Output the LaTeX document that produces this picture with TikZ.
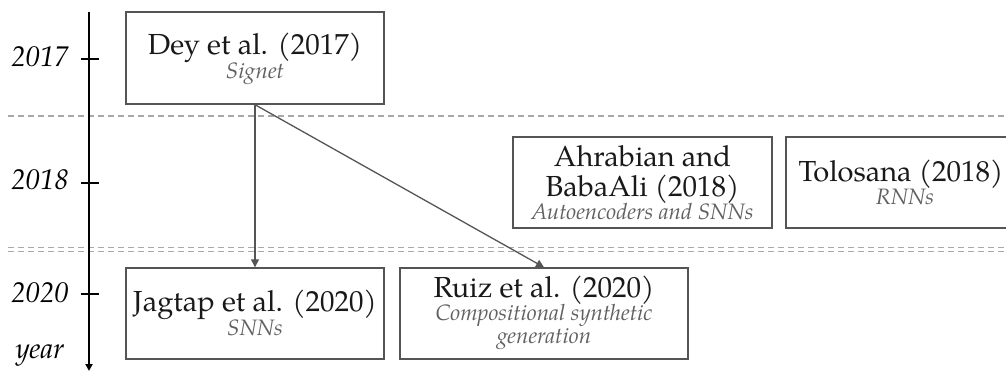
\documentclass[tikz,border=0pt]{standalone}
\usepackage{fontspec}
\setmainfont{TeX Gyre Pagella}
\usetikzlibrary{arrows.meta}
\definecolor{boxline}{HTML}{555555}
\definecolor{subtext}{HTML}{616161}
\definecolor{sepline}{HTML}{A8A8A8}
\definecolor{linkline}{HTML}{555555}
\tikzset{
  paper/.style={draw=boxline, line width=1.4pt, fill=white, inner sep=0pt},
  title/.style={anchor=base, inner sep=0pt, text=black!90, font=\fontsize{29}{30}\selectfont},
  subtitle/.style={anchor=base, inner sep=0pt, text=subtext, font=\fontsize{22.3}{23}\selectfont\itshape},
  yearlabel/.style={anchor=base, inner sep=0pt, font=\fontsize{28.5}{30}\selectfont\itshape},
  sepline/.style={draw=sepline, line width=1.2pt, dash pattern=on 6pt off 4pt},
  linkarrow/.style={draw=linkline, line width=1.3pt, -{Triangle[length=8pt,width=8pt]}},
  tick/.style={line width=2.4pt},
}
\begin{document}
\begin{tikzpicture}[x=1pt,y=-1pt]
\useasboundingbox (0,0) rectangle (1006,371);
\clip (0,0) rectangle (1006,371);

% year separators
\coordinate (s1l) at (8,116);   \coordinate (s1r) at (1006,116);
\coordinate (s2l) at (8,247.5); \coordinate (s2r) at (1006,247.5);
\coordinate (s3l) at (8,251.7); \coordinate (s3r) at (1006,251.7);
\draw[sepline] (s1l) -- (s1r);
\draw[sepline] (s2l) -- (s2r);
\draw[sepline] (s3l) -- (s3r);

% time axis
\coordinate (axtop) at (89,12);
\coordinate (axbot) at (89,371);
\draw[line width=2.4pt, -{Triangle[length=7pt,width=7pt]}] (axtop) -- (axbot);
\coordinate (t17l) at (81,59);  \coordinate (t17r) at (99,59);
\coordinate (t18l) at (81,183); \coordinate (t18r) at (99,183);
\coordinate (t20l) at (81,294); \coordinate (t20r) at (99,294);
\draw[tick] (t17l) -- (t17r);
\draw[tick] (t18l) -- (t18r);
\draw[tick] (t20l) -- (t20r);
\node[yearlabel] (y17) at (40,67) {2017};
\node[yearlabel] (y18) at (40,190) {2018};
\node[yearlabel] (y20) at (40,302) {2020};
\node[yearlabel] (yr) at (40,358) {year};

% paper boxes
\node[paper, minimum width=258pt, minimum height=92pt] (dey) at (255,58) {};
\node[paper, minimum width=259pt, minimum height=91pt] (ahr) at (642.5,182.5) {};
\node[paper, minimum width=230pt, minimum height=91pt] (tol) at (901,182.5) {};
\node[paper, minimum width=258pt, minimum height=91pt] (jag) at (255,313.5) {};
\node[paper, minimum width=288pt, minimum height=91pt] (ruiz) at (544,313.5) {};

% box texts
\node[title] (deyt) at (255,55) {Dey et al. (2017)};
\node[subtitle] (deys) at (255,79) {Signet};
\node[title] (ahrt1) at (642.5,167) {Ahrabian and};
\node[title] (ahrt2) at (642.5,197) {BabaAli (2018)};
\node[subtitle] (ahrs) at (642.5,220) {Autoencoders and SNNs};
\node[title] (tolt) at (901,182) {Tolosana (2018)};
\node[subtitle] (tols) at (905,205) {RNNs};
\node[title] (jagt) at (255,311.5) {Jagtap et al. (2020)};
\node[subtitle] (jags) at (255,335) {SNNs};
\node[title] (ruizt) at (544,297) {Ruiz et al. (2020)};
\node[subtitle] (ruizs1) at (544,320) {Compositional synthetic};
\node[subtitle] (ruizs2) at (544,343) {generation};

% influence links
\draw[linkarrow] (dey.south) -- (jag.north);
\draw[linkarrow] (dey.south) -- (ruiz.north);
\end{tikzpicture}
\end{document}
